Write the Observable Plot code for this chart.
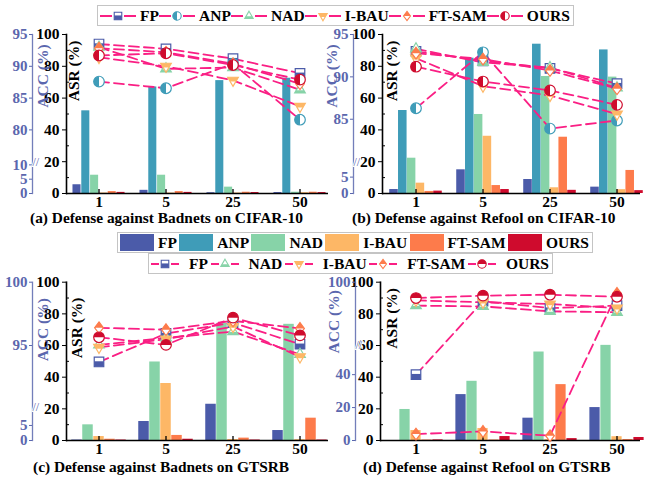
<!DOCTYPE html>
<html><head><meta charset="utf-8">
<script src="https://cdn.jsdelivr.net/npm/d3@7"></script>
<script src="https://cdn.jsdelivr.net/npm/@observablehq/plot@0.6"></script>
<style>
body{margin:0;background:#fff;}
#root{position:relative;width:647px;height:481px;overflow:hidden;font-family:"Liberation Serif","Times New Roman",serif;font-weight:bold;color:#000;}
.panel{position:absolute;}
.panel svg{overflow:visible;}
.legend{position:absolute;background:#fff;border:1px solid #c4c4c4;display:flex;align-items:center;justify-content:space-between;box-sizing:border-box;font-family:"Liberation Serif",serif;font-weight:bold;font-size:15.5px;z-index:5;padding:0 3px 0 2px;}
.item{display:flex;align-items:center;white-space:nowrap;}
.sw{width:34px;height:17px;margin-right:4px;}
.caption{position:absolute;font-family:"Liberation Serif",serif;font-weight:bold;font-size:15.4px;white-space:nowrap;z-index:4;line-height:14px;}
</style></head><body><div id="root"></div>
<script>
// ---------------- data ----------------
const categories = ["1", "5", "25", "50"];
const methodsCifar = ["FP", "ANP", "NAD", "I-BAU", "FT-SAM", "OURS"];
const methodsGtsrb = ["FP", "NAD", "I-BAU", "FT-SAM", "OURS"];

// ASR (%) — rows follow the method list, columns follow categories
const asrBadnetsCifar = [
  [5.5, 2.0, 0.5, 0.6],
  [52, 67, 71, 72.5],
  [11.5, 11.5, 4.0, 0.8],
  [0.3, 0.3, 0.3, 0.5],
  [1.2, 1.2, 0.8, 0.8],
  [0.7, 0.7, 0.6, 0.6]
];
const accBadnetsCifar = [
  [93.5, 92.75, 91.2, 88.9],
  [87.6, 86.55, 90.4, 81.6],
  [93.0, 89.6, 89.8, 86.3],
  [91.4, 90.0, 87.8, 83.7],
  [92.85, 92.2, 90.4, 87.25],
  [91.7, 92.05, 90.2, 87.9]
];
const asrRefoolCifar = [
  [2.5, 14.9, 8.8, 4.0],
  [52.2, 85.1, 93.9, 90.3],
  [22.2, 49.7, 73.6, 73.2],
  [6.5, 36, 3.6, 2.4],
  [1.3, 5.0, 35.4, 14.5],
  [1.5, 2.5, 2.0, 1.8]
];
const accRefoolCifar = [
  [93.0, 91.9, 91.0, 89.2],
  [86.3, 92.9, 83.9, 84.85],
  [93.3, 91.7, 91.1, 88.7],
  [92.2, 88.9, 87.8, 85.6],
  [92.8, 92.1, 90.75, 88.6],
  [91.2, 89.45, 88.4, 86.7]
];
const asrBadnetsGtsrb = [
  [0.3, 12, 22.9, 6.3],
  [9.9, 49.6, 74, 73.4],
  [2.5, 36, 0.6, 0.5],
  [0.8, 3.2, 1.5, 14.1],
  [0.3, 0.8, 0.3, 0.3]
];
const accBadnetsGtsrb = [
  [93.7, 95.95, 96.8, 95.1],
  [95.05, 95.6, 96.1, 94.3],
  [94.85, 95.5, 96.5, 94.1],
  [96.4, 96.25, 96.95, 96.35],
  [95.65, 95.05, 97.2, 95.8]
];
const asrRefoolGtsrb = [
  [0, 29, 14.1, 20.8],
  [19.6, 37.4, 55.9, 60.1],
  [6.3, 7.6, 0.5, 2.4],
  [0.3, 0.3, 35.3, 0.6],
  [0.4, 2.5, 1.2, 1.9]
];
const accRefoolGtsrb = [
  [40, 88, 83.6, 85.2],
  [85.2, 84.7, 81.6, 81],
  [88.5, 87.3, 86.2, 83.6],
  [3.9, 5.5, 2.9, 92.9],
  [90, 91.5, 92.1, 90.8]
];
const asrTicks = [0, 20, 40, 60, 80, 100];
const asrMinorTicks = [10, 30, 50, 70, 90];
const accTicksA = [0, 5, 10, 80, 85, 90, 95];
const accTicksB = [0, 5, 85, 90, 95];
const accTicksC = [0, 5, 95, 100];
const accTicksD = [0, 20, 40, 100];

// ---------------- style ----------------
const methodColor = {"FP": "#4b5ba9", "ANP": "#3f9cb8", "NAD": "#87d3a8", "I-BAU": "#fdb766", "FT-SAM": "#fd7b4b", "OURS": "#cf0b2d"};
const pink = "#fa1f84";
const accColor = "#5b67ae";
const font = '"Liberation Serif","Times New Roman",serif';

function drawShape(ctx, shape, r, part) {
  const full = part === "full";
  if (shape === "square") {
    const s = r * 0.9;
    if (full) ctx.rect(-s, -s, 2 * s, 2 * s); else ctx.rect(-s, -s * 0.15, 2 * s, s * 1.15);
  } else if (shape === "circleL" || shape === "circleT") {
    if (full) { ctx.moveTo(r, 0); ctx.arc(0, 0, r, 0, 2 * Math.PI); }
    else if (shape === "circleL") { ctx.moveTo(0, -r); ctx.arc(0, 0, r, -Math.PI / 2, Math.PI / 2, true); ctx.closePath(); }
    else { ctx.moveTo(-r, 0); ctx.arc(0, 0, r, Math.PI, 2 * Math.PI, false); ctx.closePath(); }
  } else if (shape === "triUp") {
    const R = r * 1.15;
    if (full) { ctx.moveTo(0, -R); ctx.lineTo(R * 0.87, R * 0.5); ctx.lineTo(-R * 0.87, R * 0.5); ctx.closePath(); }
    else { const y = R * 0.05, w = R * 0.87 * (y + R) / (1.5 * R);
      ctx.moveTo(-w, y); ctx.lineTo(w, y); ctx.lineTo(R * 0.87, R * 0.5); ctx.lineTo(-R * 0.87, R * 0.5); ctx.closePath(); }
  } else if (shape === "triDown") {
    const R = r * 1.15;
    if (full) { ctx.moveTo(0, R); ctx.lineTo(R * 0.87, -R * 0.5); ctx.lineTo(-R * 0.87, -R * 0.5); ctx.closePath(); }
    else { const y = R * 0.2, w = R * 0.87 * (R - y) / (1.5 * R);
      ctx.moveTo(-R * 0.87, -R * 0.5); ctx.lineTo(R * 0.87, -R * 0.5); ctx.lineTo(w, y); ctx.lineTo(-w, y); ctx.closePath(); }
  } else if (shape === "diamond") {
    const R = r * 1.1, w = R * 0.75;
    if (full) { ctx.moveTo(0, -R); ctx.lineTo(w, 0); ctx.lineTo(0, R); ctx.lineTo(-w, 0); ctx.closePath(); }
    else { ctx.moveTo(0, -R); ctx.lineTo(w, 0); ctx.lineTo(-w, 0); ctx.closePath(); }
  }
}
function symbolOf(shape, part) {
  return {draw(ctx, size) { drawShape(ctx, shape, Math.sqrt(size / Math.PI), part); }};
}
const shapeAB = {"FP": "square", "ANP": "circleL", "NAD": "triUp", "I-BAU": "triDown", "FT-SAM": "diamond", "OURS": "circleL"};
const shapeCD = {"FP": "square", "NAD": "triUp", "I-BAU": "triDown", "FT-SAM": "diamond", "OURS": "circleT"};

// ---------------- panels ----------------
function makePanel(cfg) {
  const {methods, asr, acc, accToY, accTicks, breakAt, shapes} = cfg;
  const rows = [];
  methods.forEach((m, j) => categories.forEach((c, i) => rows.push({method: m, cat: c, asr: asr[j][i], acc: acc[j][i]})));
  const band = (cfg.xRange[1] - cfg.xRange[0]) / categories.length;
  const inset = (band - cfg.barW) / 2;
  const k = methods.length;
  const marks = [];
  methods.forEach((m, j) => {
    marks.push(Plot.barY(rows.filter(d => d.method === m), {
      x: "cat", y: "asr", fill: methodColor[m], dx: (j - (k - 1) / 2) * cfg.barW, insetLeft: inset, insetRight: inset
    }));
  });
  marks.push(Plot.ruleY([0], {stroke: "black", strokeWidth: 1.6}));
  marks.push(Plot.frame({anchor: "left", stroke: "black", strokeWidth: 1.6}));
  marks.push(Plot.ruleX(categories, {x: d => d, y1: 0, y2: 2.5, stroke: "black", strokeWidth: 1.3}));
  methods.forEach(m => {
    marks.push(Plot.line(rows.filter(d => d.method === m), {
      x: "cat", y: d => accToY(d.acc), stroke: pink, strokeWidth: 1.8, strokeDasharray: "10,5"
    }));
  });
  methods.forEach(m => {
    const sub = rows.filter(d => d.method === m);
    marks.push(Plot.dot(sub, {x: "cat", y: d => accToY(d.acc), r: 5.3, symbol: symbolOf(shapes[m], "full"), fill: "white", stroke: methodColor[m], strokeWidth: 1.2}));
    marks.push(Plot.dot(sub, {x: "cat", y: d => accToY(d.acc), r: 5.3, symbol: symbolOf(shapes[m], "half"), fill: methodColor[m]}));
  });
  // axes
  marks.push(Plot.axisX({tickSize: 0, tickPadding: 2, label: null, fontSize: 15.5}));
  marks.push(Plot.axisY({ticks: asrTicks, tickSize: 4, tickPadding: 3, label: null, fontSize: 15.5}));
  marks.push(Plot.axisY({ticks: asrMinorTicks, tickSize: -3, tickFormat: () => "", label: null}));
  const accPos = accTicks.map(accToY);
  const accLabel = new Map(accPos.map((p, i) => [p, String(accTicks[i])]));
  marks.push(Plot.frame({anchor: "left", dx: cfg.accDx, stroke: accColor, strokeWidth: 1.3, strokeOpacity: 0.85}));
  marks.push(Plot.axisY({ticks: accPos, tickFormat: d => accLabel.get(d), dx: cfg.accDx, tickSize: 3, tickPadding: 2, stroke: accColor, fill: accColor, label: null, fontSize: 15}));
  marks.push(Plot.text([breakAt], {y: d => d, text: () => "//", frameAnchor: "left", dx: cfg.accDx, fill: accColor, fontSize: 12, fontWeight: "normal", stroke: "white", strokeWidth: 2}));
  marks.push(Plot.text([cfg.accTitle.y], {y: d => d, text: () => "ACC (%)", frameAnchor: "left", dx: cfg.accTitle.dx, rotate: -90, fill: accColor, fontSize: 15.5}));
  marks.push(Plot.text([cfg.asrTitle.y], {y: d => d, text: () => "ASR (%)", frameAnchor: "left", dx: cfg.asrTitle.dx, rotate: -90, fill: "black", fontSize: 15.5}));

  const svg = Plot.plot({
    width: cfg.width, height: cfg.height,
    marginLeft: cfg.ml, marginRight: cfg.mr, marginTop: cfg.mt, marginBottom: cfg.mb,
    x: {type: "band", domain: categories, range: cfg.xRange, padding: 0, axis: null},
    y: {domain: [0, 100], axis: null},
    style: {fontFamily: font, fontWeight: "bold", fontSize: "15.5px", background: "transparent", overflow: "visible", color: "black"},
    marks
  });
  const div = document.createElement("div");
  div.className = "panel";
  div.style.left = cfg.left + "px"; div.style.top = cfg.top + "px";
  div.style.width = cfg.width + "px"; div.style.height = cfg.height + "px";
  div.appendChild(svg);
  document.getElementById("root").appendChild(div);
}

makePanel({left: 0, top: 0, width: 340, height: 220, ml: 66, mr: 12, mt: 34, mb: 27, xRange: [63, 334], barW: 8.8,
  methods: methodsCifar, asr: asrBadnetsCifar, acc: accBadnetsCifar, shapes: shapeAB,
  accToY: a => a >= 50 ? 100 - (95 - a) * 4 : a * 1.8, accTicks: accTicksA, breakAt: 20,
  accDx: -34, accTitle: {dx: -23, y: 54}, asrTitle: {dx: 8, y: 58}});
makePanel({left: 320, top: 0, width: 327, height: 220, ml: 62, mr: 7, mt: 34, mb: 27, xRange: [61, 330], barW: 8.8,
  methods: methodsCifar, asr: asrRefoolCifar, acc: accRefoolCifar, shapes: shapeAB,
  accToY: a => a >= 50 ? 100 - (95 - a) * 5.33 : a * 2.06, accTicks: accTicksB, breakAt: 20,
  accDx: -29, accTitle: {dx: -50, y: 54}, asrTitle: {dx: 10, y: 58}});
makePanel({left: 0, top: 240, width: 340, height: 241, ml: 66, mr: 12, mt: 41.7, mb: 41, xRange: [64, 334], barW: 11,
  methods: methodsGtsrb, asr: asrBadnetsGtsrb, acc: accBadnetsGtsrb, shapes: shapeCD,
  accToY: a => a >= 50 ? 100 - (100 - a) * 8 : a * 1.9, accTicks: accTicksC, breakAt: 21,
  accDx: -34, accTitle: {dx: -23, y: 50}, asrTitle: {dx: 11, y: 52}});
makePanel({left: 320, top: 240, width: 327, height: 241, ml: 60, mr: 7, mt: 41.7, mb: 41, xRange: [60, 331], barW: 11,
  methods: methodsGtsrb, asr: asrRefoolGtsrb, acc: accRefoolGtsrb, shapes: shapeCD,
  accToY: a => a >= 50 ? a : a * 1.04, accTicks: accTicksD, breakAt: 60,
  accDx: -25, accTitle: {dx: -46, y: 55}, asrTitle: {dx: 12, y: 58}});

// ---------------- legends & captions ----------------
function markerSvg(m, shape, w, segs, mx) {
  const p = d3.path(); drawShape(p, shape, 4.2, "full");
  const h = d3.path(); drawShape(h, shape, 4.2, "half");
  const lines = segs.map(([a, b]) => `<line x1="${a}" x2="${b}" y1="7" y2="7" stroke="${pink}" stroke-width="2"/>`).join("");
  return `<svg width="${w}" height="14" style="display:block">${lines}<g transform="translate(${mx},7)"><path d="${p}" fill="white" stroke="${methodColor[m]}" stroke-width="1.1"/><path d="${h}" fill="${methodColor[m]}"/></g></svg>`;
}
function addLegend(style, html) {
  const d = document.createElement("div");
  d.className = "legend";
  Object.assign(d.style, style);
  d.innerHTML = html;
  document.getElementById("root").appendChild(d);
}
addLegend({left: "97px", top: "5px", width: "477px", height: "21px"},
  methodsCifar.map(m => `<div class="item"><span style="margin-right:4px">${markerSvg(m, shapeAB[m], 36, [[0, 12], [24, 36]], 18)}</span>${m}</div>`).join(""));
addLegend({left: "117px", top: "232px", width: "476px", height: "21px"},
  methodsCifar.map(m => `<div class="item"><div class="sw" style="background:${methodColor[m]}"></div>${m}</div>`).join(""));
addLegend({left: "148px", top: "253px", width: "405px", height: "21px"},
  methodsGtsrb.map(m => `<div class="item"><span style="margin-right:10px">${markerSvg(m, shapeCD[m], 28, [[0, 8], [20, 28]], 14)}</span>${m}</div>`).join(""));

const captions = [
  {text: "(a) Defense against Badnets on CIFAR-10", x: 30, y: 211},
  {text: "(b) Defense against Refool on CIFAR-10", x: 352, y: 211},
  {text: "(c) Defense against Badnets on GTSRB", x: 33, y: 460},
  {text: "(d) Defense against Refool on GTSRB", x: 363, y: 460}
];
captions.forEach(c => {
  const d = document.createElement("div");
  d.className = "caption";
  d.style.left = c.x + "px"; d.style.top = c.y + "px";
  d.textContent = c.text;
  document.getElementById("root").appendChild(d);
});
</script></body></html>
